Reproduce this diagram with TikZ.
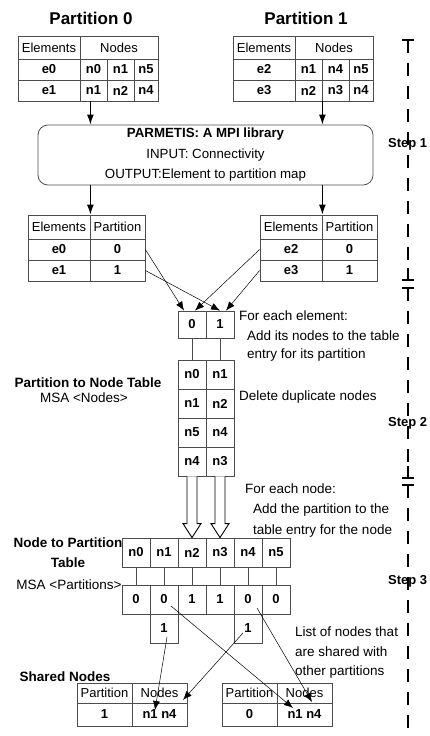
\documentclass[tikz,border=0pt]{standalone}
\usepackage{fontspec}
\setmainfont{Liberation Sans}
\usetikzlibrary{arrows.meta}
\newcommand{\fsz}[1]{\fontsize{#1}{#1}\selectfont}

\begin{document}
\begin{tikzpicture}[
    x=1pt, y=-1pt,
    cell/.style 2 args={draw=black!70, line width=0.8pt, inner sep=0pt,
        minimum width=#1pt, minimum height=#2pt},
    tbltext/.style={font=\fsz{13}},
    tblbold/.style={font=\bfseries\fsz{13}},
    notetext/.style={anchor=west, inner sep=0pt, font=\fsz{13.5}},
    labeltext/.style={inner sep=0pt, font=\bfseries\fsz{13.5}},
    titletext/.style={inner sep=0pt, font=\bfseries\fsz{17}},
    steplabel/.style={anchor=west, inner sep=0pt, font=\bfseries\fsz{13}},
    flowarrow/.style={draw, line width=1.3pt, -{Latex[length=10pt,width=7pt]}},
    maparrow/.style={draw, line width=0.5pt, -{Latex[length=9pt,width=7pt]}},
    link/.style={draw=black!70, line width=0.8pt},
    hollowarrow/.style={draw, line width=0.9pt, fill=white},
    stepline/.style={draw, line width=1.2pt, dash pattern=on 13pt off 10pt},
    stepbar/.style={draw, line width=1.2pt}
]
\useasboundingbox (0,0) rectangle (430,736);

% element/node tables of both partitions
\foreach \t/\dx/\rows in {0/0/{e0/n0/n1/n5,e1/n1/n2/n4}, 1/215/{e2/n1/n4/n5,e3/n2/n3/n4}} {
  \node[titletext] (title\t) at (91+\dx,18) {Partition \t};
  \node[cell={62}{23}, tbltext] (t\t-h0) at (49+\dx,47.5) {Elements};
  \node[cell={78}{23}, tbltext] (t\t-h1) at (119+\dx,47.5) {Nodes};
  \foreach \e/\a/\b/\c [count=\r] in \rows {
    \node[cell={62}{21}, tblbold] (t\t-\r0) at (49+\dx,48.5+21*\r) {\e};
    \node[cell={27}{21}, tblbold] (t\t-\r1) at (93.5+\dx,48.5+21*\r) {\a};
    \node[cell={27}{21}, tblbold] (t\t-\r2) at (120.5+\dx,48.5+21*\r) {\b};
    \node[cell={24}{21}, tblbold] (t\t-\r3) at (146+\dx,48.5+21*\r) {\c};
  }
}

% partitioner
\node[draw=black!70, line width=0.8pt, rounded corners=10pt, minimum width=335pt,
      minimum height=56pt, align=center, font=\fontsize{13.3}{20.5}\selectfont] (pm) at (205.5,155)
  {\textbf{PARMETIS: A MPI library}\\
   INPUT: Connectivity\\
   OUTPUT:Element to partition map};

% element to partition maps
\foreach \t/\dx/\rows in {0/0/{e0/0,e1/1}, 1/232/{e2/0,e3/1}} {
  \node[cell={62}{24}, tbltext] (p\t-h0) at (59+\dx,227) {Elements};
  \node[cell={55}{24}, tbltext] (p\t-h1) at (117.5+\dx,227) {Partition};
  \foreach \e/\p [count=\r] in \rows {
    \node[cell={62}{21}, tblbold] (p\t-\r0) at (59+\dx,228.5+21*\r) {\e};
    \node[cell={55}{21}, tblbold] (p\t-\r1) at (117.5+\dx,228.5+21*\r) {\p};
  }
}

\draw[flowarrow] (t0-21.south -| p0-h0.east) -- (pm.north -| p0-h0.east);
\draw[flowarrow] (t1-22.south -| p1-h0.east) -- (pm.north -| p1-h0.east);
\draw[flowarrow] (pm.south -| p0-h0.east) -- (p0-h0.north east);
\draw[flowarrow] (pm.south -| p1-h0.east) -- (p1-h0.north east);

% partition to node table
\node[cell={28}{27}, tblbold] (s0) at (192,324.5) {0};
\node[cell={28}{27}, tblbold] (s1) at (220,324.5) {1};
\foreach \a/\b [count=\r] in {n0/n1, n1/n2, n5/n4, n4/n3} {
  \node[cell={28}{29}, tblbold] (pn-\r0) at (192,345.5+29*\r) {\a};
  \node[cell={28}{29}, tblbold] (pn-\r1) at (220,345.5+29*\r) {\b};
}
\draw[link] (s0) -- (pn-10);
\draw[link] (s1) -- (pn-11);

\draw[maparrow] (p0-11.east) -- ([xshift=-8pt]s0.north);
\draw[maparrow] (p0-21.east) -- (s1.north);
\draw[maparrow] (p1-10.west) -- ([xshift=3pt]s0.north);
\draw[maparrow] (p1-20.west) -- ([xshift=6pt]s1.north);

\node[labeltext] (pnlabel) at (88,383) {Partition to Node Table};
\node[inner sep=0pt, font=\fsz{13.5}] (pnmsa) at (84,398) {MSA <Nodes>};

% node to partition table
\foreach \n/\p [count=\i from 0] in {n0/0, n1/0, n2/1, n3/1, n4/0, n5/0} {
  \node[cell={28}{29}, tblbold] (np-\i) at (136+28*\i,552.5) {\n};
  \node[cell={28}{29}, tblbold] (pv-\i) at (136+28*\i,599.5) {\p};
  \draw[link] (np-\i) -- (pv-\i);
}
\node[cell={28}{29}, tblbold] (pw-1) at (164,628.5) {1};
\node[cell={28}{29}, tblbold] (pw-4) at (248,628.5) {1};

\foreach \c/\n in {0/2, 1/3} {
  \draw[hollowarrow] ([xshift=-5pt]pn-4\c.south) -- ([xshift=-5pt,yshift=14pt]np-\n.north)
    -- ([xshift=-9pt,yshift=14pt]np-\n.north) -- (np-\n.north)
    -- ([xshift=9pt,yshift=14pt]np-\n.north) -- ([xshift=5pt,yshift=14pt]np-\n.north)
    -- ([xshift=5pt]pn-4\c.south);
}

\node[inner sep=0pt, align=center, font=\bfseries\fontsize{13.5}{20}\selectfont] (nplabel) at (68,553)
  {Node to Partition\\Table};
\node[inner sep=0pt, font=\fsz{13.5}] (npmsa) at (69,585) {MSA <Partitions>};

% shared node lists
\node[labeltext] (shlabel) at (65,677) {Shared Nodes};
\foreach \t/\dx in {1/0, 0/145} {
  \node[cell={55}{20}, tbltext] (sh\t-h0) at (104.5+\dx,693) {Partition};
  \node[cell={55}{20}, tbltext] (sh\t-h1) at (159.5+\dx,693) {Nodes};
  \node[cell={55}{23}, tblbold] (sh\t-p) at (104.5+\dx,714.5) {\t};
  \node[cell={55}{23}, tblbold] (sh\t-n) at (159.5+\dx,714.5) {n1 n4};
}

\draw[maparrow] ([xshift=3pt,yshift=-8.5pt]pw-1.center) -- ([xshift=-4.5pt,yshift=4.5pt]sh1-n.center);
\draw[maparrow] ([xshift=-5pt,yshift=-4.5pt]pw-4.center) -- ([xshift=23.5pt,yshift=14.5pt]sh1-n.center);
\draw[maparrow] ([xshift=7pt,yshift=-6.5pt]pv-1.center) -- ([xshift=-11.5pt,yshift=6.5pt]sh0-n.center);
\draw[maparrow] ([xshift=9pt,yshift=-8.5pt]pv-4.center) -- ([xshift=7.5pt,yshift=12.5pt]sh0-n.center);

% notes
\node[notetext] (note1) at (239,316) {For each element:};
\node[notetext] (note2) at (247,336) {Add its nodes to the table};
\node[notetext] (note3) at (247,355) {entry for its partition};
\node[notetext] (note4) at (239,397) {Delete duplicate nodes};
\node[notetext] (note5) at (245,489) {For each node:};
\node[notetext] (note6) at (253,510) {Add the partition to the};
\node[notetext] (note7) at (253,531) {table entry for the node};
\node[notetext] (note8) at (295,632) {List of nodes that};
\node[notetext] (note9) at (295,652) {are shared with};
\node[notetext] (note10) at (295,672) {other partitions};

% step markers
\draw[stepline] (408,40) -- (408,280);
\draw[stepbar] (402,40) -- (414,40) (408,40) -- (408,53) (408,268) -- (408,280) (402,280) -- (414,280);
\draw[stepline] (408,288) -- (408,478);
\draw[stepbar] (402,288) -- (414,288) (408,288) -- (408,301) (408,466) -- (408,478) (402,478) -- (414,478);
\draw[stepline] (408,485) -- (408,736);
\draw[stepbar] (402,485) -- (414,485) (408,485) -- (408,498);
\node[steplabel] (step1) at (388,144) {Step 1};
\node[steplabel] (step2) at (388,423) {Step 2};
\node[steplabel] (step3) at (388,581) {Step 3};
\end{tikzpicture}
\end{document}
